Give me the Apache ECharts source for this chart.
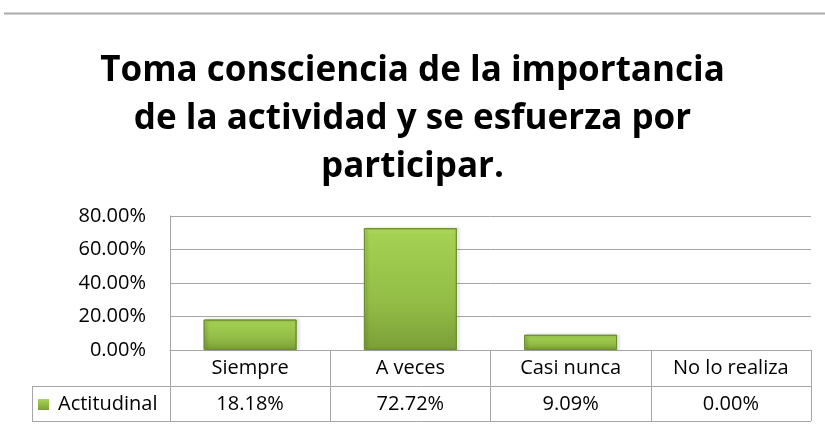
<!DOCTYPE html>
<html>
<head>
<meta charset="utf-8">
<script src="https://cdn.jsdelivr.net/npm/echarts@6/dist/echarts.min.js"></script>
<style>
  html, body { margin: 0; padding: 0; background: #fff; }
  #chart { width: 825px; height: 428px; }
</style>
</head>
<body>
<div id="chart"></div>
<script>
var categories = ['Siempre', 'A veces', 'Casi nunca', 'No lo realiza'];
var values = [0.1818, 0.7272, 0.0909, 0];
var valueLabels = ['18.18%', '72.72%', '9.09%', '0.00%'];
var seriesName = 'Actitudinal';
var titleText = 'Toma consciencia de la importancia\nde la actividad y se esfuerza por\nparticipar.';

var font = 'Open Sans';
var gridColor = '#a6a6a6';

var chart = echarts.init(document.getElementById('chart'));

// las barras en cero no se dibujan (sin borde ni sombra)
var barData = values.map(function (v) {
    if (v === 0) {
        return { value: v, itemStyle: { borderWidth: 0, shadowBlur: 0, shadowOffsetX: 0, opacity: 0 } };
    }
    return v;
});

var option = {
    backgroundColor: '#fff',
    animation: false,
    title: {
        text: titleText,
        left: 'center',
        top: 42,
        textStyle: {
            fontFamily: font,
            fontWeight: 'bold',
            fontSize: 35,
            lineHeight: 48,
            color: '#000'
        }
    },
    grid: {
        left: 170,
        right: 14,
        top: 216,
        bottom: 78
    },
    xAxis: [
        {
            type: 'category',
            data: categories,
            position: 'bottom',
            axisLine: { show: true, lineStyle: { color: gridColor, width: 1 } },
            axisTick: { show: true, length: 71, lineStyle: { color: gridColor } },
            axisLabel: { margin: 8, fontFamily: font, fontSize: 20, color: '#000' }
        },
        {
            type: 'category',
            data: valueLabels,
            position: 'bottom',
            offset: 36,
            axisLine: { show: false },
            axisTick: { show: false },
            axisLabel: { margin: 8, fontFamily: font, fontSize: 20, color: '#000' }
        }
    ],
    yAxis: {
        type: 'value',
        min: 0,
        max: 0.8,
        interval: 0.2,
        axisLine: { show: true, lineStyle: { color: gridColor } },
        axisTick: { show: false },
        splitLine: { lineStyle: { color: gridColor, width: 1 } },
        axisLabel: {
            margin: 24,
            fontFamily: font,
            fontSize: 20,
            color: '#000',
            formatter: function (v) { return (v * 100).toFixed(2) + '%'; }
        }
    },
    series: [
        {
            name: seriesName,
            type: 'bar',
            data: barData,
            barCategoryGap: '42%',
            itemStyle: {
                color: new echarts.graphic.LinearGradient(0, 0, 0, 1, [
                    { offset: 0, color: '#b4e064' },
                    { offset: 0.05, color: '#a4d152' },
                    { offset: 0.6, color: '#93bd46' },
                    { offset: 1, color: '#7b9f38' }
                ]),
                borderColor: '#6e8e30',
                borderWidth: 1,
                shadowColor: 'rgba(0,0,0,0.25)',
                shadowBlur: 3,
                shadowOffsetX: 2
            }
        }
    ]
};

chart.setOption(option);

// lineas de la tabla de datos y celda de leyenda
var p0 = chart.convertToPixel({ gridIndex: 0 }, [0, 0]);
var gridRight = 825 - 14;
var row1 = p0[1] + 36;
var row2 = p0[1] + 71;
var legendLeft = 32;

chart.setOption({
    graphic: [
        { type: 'line', shape: { x1: 4, y1: 13.5, x2: 825, y2: 13.5 }, style: { stroke: '#aaaaaa', lineWidth: 2 } },
        { type: 'line', shape: { x1: legendLeft, y1: row1 + 0.5, x2: gridRight, y2: row1 + 0.5 }, style: { stroke: gridColor, lineWidth: 1 } },
        { type: 'line', shape: { x1: legendLeft, y1: row2 + 0.5, x2: gridRight, y2: row2 + 0.5 }, style: { stroke: gridColor, lineWidth: 1 } },
        { type: 'line', shape: { x1: legendLeft + 0.5, y1: row1, x2: legendLeft + 0.5, y2: row2 }, style: { stroke: gridColor, lineWidth: 1 } },
        {
            type: 'rect',
            shape: { x: legendLeft + 6, y: row1 + 13, width: 11, height: 11 },
            style: {
                fill: new echarts.graphic.LinearGradient(0, 0, 0, 1, [
                    { offset: 0, color: '#a8d558' },
                    { offset: 1, color: '#7b9f38' }
                ])
            }
        },
        {
            type: 'text',
            style: {
                text: seriesName,
                x: legendLeft + 26,
                y: row1 + 18,
                verticalAlign: 'middle',
                font: '20px "Open Sans"',
                fill: '#000'
            }
        }
    ]
});
</script>
</body>
</html>
